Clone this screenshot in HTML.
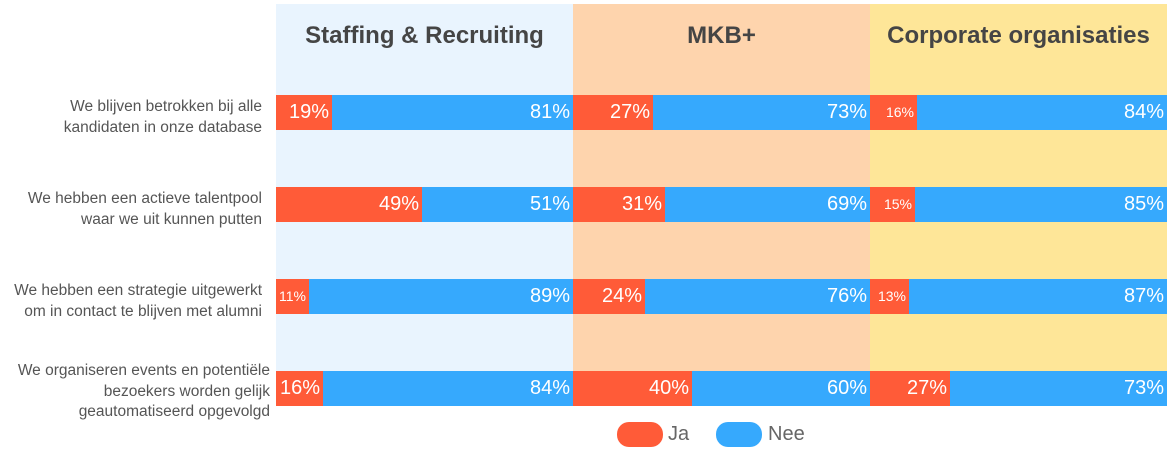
<!DOCTYPE html>
<html><head><meta charset="utf-8"><style>
body{margin:0;width:1170px;height:455px;background:#fff;position:relative;overflow:hidden;font-family:"Liberation Sans",sans-serif}
.p{position:absolute;top:4px;height:401px;width:297px}
.t{position:absolute;top:18px;width:297px;text-align:center;font-weight:bold;font-size:24px;color:#454545}
.s{position:absolute;height:35px;color:#fff;font-size:20px;line-height:35px;text-align:right;box-sizing:border-box;padding-right:3px;white-space:nowrap;overflow:hidden}
.r{background:#ff5b38}.b{background:#36a9fd}
.sm{font-size:14px}
.l{position:absolute;text-align:right;font-size:15.5px;line-height:20.5px;color:#555;white-space:nowrap}
.lg{position:absolute;top:422px;width:46px;height:25px;border-radius:12px}
.lt{position:absolute;top:423px;font-size:20px;color:#666}
</style></head><body>
<div class="p" style="left:276px;background:#e9f4fe"><div class="t">Staffing &amp; Recruiting</div></div>
<div class="p" style="left:573px;background:#fed4ad"><div class="t">MKB+</div></div>
<div class="p" style="left:870px;background:#fee698"><div class="t">Corporate organisaties</div></div>

<div class="l" style="right:908px;top:97px">We blijven betrokken bij alle<br>kandidaten in onze database</div>
<div class="l" style="right:908px;top:189px">We hebben een actieve talentpool<br>waar we uit kunnen putten</div>
<div class="l" style="right:908px;top:281px">We hebben een strategie uitgewerkt<br>om in contact te blijven met alumni</div>
<div class="l" style="right:900px;top:361px">We organiseren events en potentiële<br>bezoekers worden gelijk<br>geautomatiseerd opgevolgd</div>

<!-- row1 -->
<div class="s r" style="left:276px;top:95px;width:56px">19%</div>
<div class="s b" style="left:332px;top:95px;width:241px">81%</div>
<div class="s r" style="left:573px;top:95px;width:80px">27%</div>
<div class="s b" style="left:653px;top:95px;width:217px">73%</div>
<div class="s r sm" style="left:870px;top:95px;width:47px">16%</div>
<div class="s b" style="left:917px;top:95px;width:250px">84%</div>
<!-- row2 -->
<div class="s r" style="left:276px;top:187px;width:146px">49%</div>
<div class="s b" style="left:422px;top:187px;width:151px">51%</div>
<div class="s r" style="left:573px;top:187px;width:92px">31%</div>
<div class="s b" style="left:665px;top:187px;width:205px">69%</div>
<div class="s r sm" style="left:870px;top:187px;width:45px">15%</div>
<div class="s b" style="left:915px;top:187px;width:252px">85%</div>
<!-- row3 -->
<div class="s r sm" style="left:276px;top:279px;width:33px">11%</div>
<div class="s b" style="left:309px;top:279px;width:264px">89%</div>
<div class="s r" style="left:573px;top:279px;width:72px">24%</div>
<div class="s b" style="left:645px;top:279px;width:225px">76%</div>
<div class="s r sm" style="left:870px;top:279px;width:39px">13%</div>
<div class="s b" style="left:909px;top:279px;width:258px">87%</div>
<!-- row4 -->
<div class="s r" style="left:276px;top:371px;width:47px">16%</div>
<div class="s b" style="left:323px;top:371px;width:250px">84%</div>
<div class="s r" style="left:573px;top:371px;width:119px">40%</div>
<div class="s b" style="left:692px;top:371px;width:178px">60%</div>
<div class="s r" style="left:870px;top:371px;width:80px">27%</div>
<div class="s b" style="left:950px;top:371px;width:217px">73%</div>

<div class="lg r" style="left:617px"></div><div class="lt" style="left:668px">Ja</div>
<div class="lg b" style="left:716px"></div><div class="lt" style="left:768px">Nee</div>
</body></html>
